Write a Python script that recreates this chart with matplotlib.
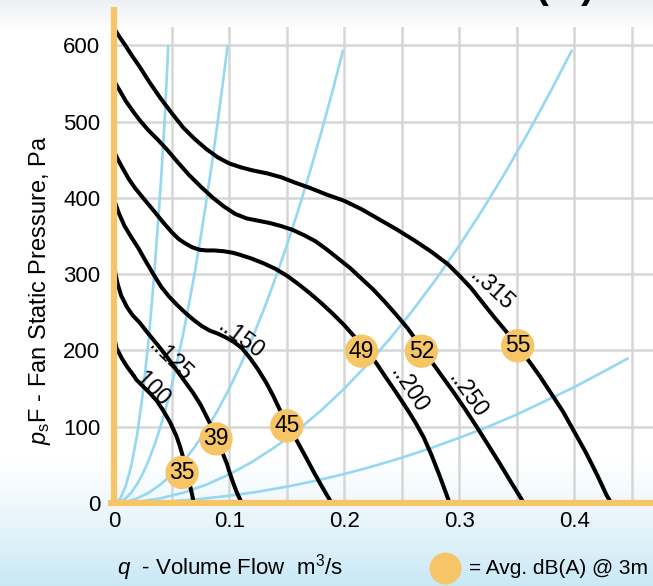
import numpy as np
import matplotlib
matplotlib.use("Agg")
import matplotlib.pyplot as plt

plt.rcParams['font.family'] = ['Liberation Sans', 'DejaVu Sans']
plt.rcParams['mathtext.fontset'] = 'custom'
plt.rcParams['mathtext.rm'] = 'Liberation Sans'
plt.rcParams['mathtext.it'] = 'Liberation Sans:italic'

# ---------------- data ----------------
# fan curves: q [m3/s], p [Pa]
fan_labels = ["..315", "..250", "..200", "..150", "..125", "..100"]
q_315 = [0, 0.005, 0.01, 0.016, 0.022, 0.03, 0.04, 0.05, 0.06, 0.07, 0.08, 0.09, 0.1, 0.11,
         0.12, 0.133, 0.145, 0.157, 0.17, 0.185, 0.2, 0.215, 0.23, 0.245, 0.26, 0.275,
         0.29, 0.3, 0.31, 0.32, 0.33, 0.34, 0.35, 0.36, 0.37, 0.38, 0.39, 0.4, 0.41, 0.42,
         0.428, 0.432]
p_315 = [622, 610, 599, 585, 572, 553, 531, 511, 492, 477, 464, 453, 445, 440,
         436, 432, 427, 420, 413, 404, 396, 385, 372, 359, 345, 330,
         313, 298, 282, 263, 244, 226, 207, 187, 166, 143, 120, 93, 66, 36,
         10, 0]
q_250 = [0, 0.005, 0.01, 0.016, 0.022, 0.03, 0.038, 0.046, 0.055, 0.065, 0.075, 0.085, 0.095,
         0.105, 0.115, 0.125, 0.135, 0.145, 0.155, 0.165, 0.175, 0.185, 0.195, 0.205,
         0.215, 0.225, 0.235, 0.245, 0.255, 0.265, 0.275, 0.285, 0.295, 0.305, 0.315,
         0.325, 0.335, 0.345, 0.352, 0.356]
p_250 = [553, 540, 527, 514, 502, 488, 476, 463, 447, 430, 415, 401, 389,
         379, 373, 370, 367, 363, 358, 351, 343, 332, 320, 308,
         294, 280, 264, 247, 229, 208, 187, 166, 145, 123, 100,
         76, 52, 27, 10, 0]
q_200 = [0, 0.004, 0.008, 0.0125, 0.018, 0.025, 0.03, 0.036, 0.043, 0.05, 0.056, 0.062,
         0.068, 0.074, 0.08, 0.087, 0.095, 0.103, 0.11, 0.12, 0.13, 0.14, 0.15, 0.16,
         0.17, 0.18, 0.19, 0.2, 0.21, 0.22, 0.227, 0.235, 0.245, 0.255, 0.262, 0.269,
         0.276, 0.283, 0.2915]
p_200 = [460, 448, 437, 425, 413, 400, 391, 380, 367, 355, 346, 340,
         335, 332, 331, 331, 330, 328, 325, 320, 314, 307, 298, 287,
         275, 262, 248, 233, 216, 198, 185, 167, 145, 122, 105, 86,
         62, 35, 0]
q_150 = [0, 0.004, 0.009, 0.015, 0.021, 0.027, 0.034, 0.041, 0.048, 0.055, 0.062, 0.069,
         0.076, 0.083, 0.09, 0.097, 0.104, 0.111, 0.118, 0.125, 0.132, 0.138, 0.144,
         0.15, 0.156, 0.1615, 0.168, 0.174, 0.18, 0.185, 0.189]
p_150 = [397, 380, 363, 348, 334, 318, 300, 283, 270, 259, 249, 240,
         232, 226, 222, 217, 211, 203, 190, 175, 158, 141, 122,
         106, 89, 74, 56, 39, 23, 10, 0]
q_125 = [0, 0.001, 0.003, 0.006, 0.011, 0.016, 0.0224, 0.028, 0.034, 0.04, 0.0456, 0.051,
         0.0572, 0.063, 0.0687, 0.075, 0.0804, 0.085, 0.0885, 0.093, 0.0978, 0.1005,
         0.1035, 0.1065, 0.1093, 0.111]
p_125 = [314, 301, 287, 272, 257, 246, 236, 225, 214, 203, 192, 181,
         168, 156, 144, 129, 113, 99, 87, 70, 52, 39,
         26, 14, 5, 0]
q_100 = [0, 0.002, 0.0065, 0.011, 0.0155, 0.0196, 0.025, 0.031, 0.037, 0.0427, 0.0485,
         0.054, 0.057, 0.0595, 0.062, 0.064, 0.066, 0.068, 0.069]
p_100 = [217, 203, 190, 179, 170, 161, 153, 144, 134, 121, 106,
         88, 75, 62, 47, 34, 22, 9, 0]

# system (duct) curves, light blue
sys1_q = [0, 0.005, 0.01, 0.015, 0.02, 0.025, 0.03, 0.034, 0.038, 0.041, 0.044, 0.047]
sys1_p = [0, 5, 22, 50, 90, 145, 215, 285, 365, 430, 505, 600]
sys2_q = [0, 0.005, 0.01, 0.015, 0.02, 0.025, 0.03, 0.035, 0.04, 0.045, 0.05, 0.055, 0.06,
          0.065, 0.07, 0.075, 0.08, 0.085, 0.09, 0.095, 0.0986]
sys2_p = [0, 1.5, 6, 14, 25, 39, 56, 76, 99, 125, 154, 187, 222,
          261, 302, 347, 395, 446, 500, 557, 600]
sys3_q = [0, 0.01, 0.02, 0.03, 0.04, 0.05, 0.06, 0.07, 0.08, 0.09, 0.1, 0.11, 0.12, 0.13,
          0.14, 0.15, 0.16, 0.17, 0.18, 0.19, 0.199]
sys3_p = [0, 1.5, 6, 13.5, 24, 37.5, 54, 73.5, 96, 121.5, 150, 181.5, 216, 253.5,
          294, 337.5, 384, 433.5, 486, 541.5, 594]
sys4_q = [0, 0.02, 0.04, 0.06, 0.08, 0.1, 0.12, 0.14, 0.16, 0.18, 0.2, 0.22, 0.24, 0.26,
          0.28, 0.3, 0.32, 0.34, 0.36, 0.38, 0.398]
sys4_p = [0, 1.5, 6, 13.5, 24, 37.5, 54, 73.5, 96, 121.5, 150, 181.5, 216, 253.5,
          294, 337.5, 384, 433.5, 486, 541.5, 594]
sys5_q = [0, 0.025, 0.05, 0.075, 0.1, 0.125, 0.15, 0.175, 0.2, 0.225, 0.25, 0.275, 0.3,
          0.325, 0.35, 0.375, 0.4, 0.425, 0.447]
sys5_p = [0, 0.6, 2.4, 5.3, 9.5, 14.8, 21.4, 29.1, 38, 48.1, 59.4, 71.8, 85.5,
          100, 116, 134, 152, 172, 190]

# noise markers
noise_q = [0.059, 0.0885, 0.150, 0.215, 0.267, 0.3507]
noise_p = [40, 84, 101, 199, 199, 206]
noise_db = ["35", "39", "45", "49", "52", "55"]

# curve label positions (q, p, rotation)
label_q = [0.328, 0.307, 0.256, 0.110, 0.049, 0.030]
label_p = [280, 142, 148, 215, 188, 154]
label_rot = [-43, -55, -57, -37, -44, -45]

x_ticks = [0, 0.1, 0.2, 0.3, 0.4]
x_ticklabels = ["0", "0.1", "0.2", "0.3", "0.4"]
y_ticks = [0, 100, 200, 300, 400, 500, 600]

# ---------------- styling ----------------
W, H = 653, 586
ORANGE = "#F6C565"
BLUE = "#96D7F2"
GRID = "#D6D6D6"

fig = plt.figure(figsize=(W / 100, H / 100), dpi=100)

# background gradient
bg = fig.add_axes([0, 0, 1, 1], zorder=-10)
img = np.ones((H, 1, 3))
top = np.array([0.93, 0.945, 0.955])
bot = np.array([0.79, 0.91, 0.965])
for r in range(H):
    if r < 30:
        t = 1 - r / 30
        img[r, 0] = (1 - t) * 1.0 + t * top
    elif r > 460:
        t = ((r - 460) / (H - 460)) ** 1.1
        img[r, 0] = (1 - t) * 1.0 + t * bot
bg.imshow(img, aspect='auto', extent=[0, 1, 0, 1], origin='upper')
bg.axis('off')

x0_px, x_scale = 114.2, 1150.6
y0_px, y_scale = 503.0, 0.763
ax_top_px = 27
xmax = (W - x0_px) / x_scale
ymax = (y0_px - ax_top_px) / y_scale
ax = fig.add_axes([x0_px / W, (H - y0_px) / H, 1 - x0_px / W, (y0_px - ax_top_px) / H])
ax.patch.set_visible(False)
ax.set_xlim(0, xmax)
ax.set_ylim(0, ymax)

for gx in np.arange(0.05, 0.46, 0.05):
    ax.axvline(gx, color=GRID, lw=1.8, zorder=1)
for gy in [100, 200, 300, 400, 500, 600]:
    ax.axhline(gy, color=GRID, lw=1.8, zorder=1)

for sq, sp in [(sys1_q, sys1_p), (sys2_q, sys2_p), (sys3_q, sys3_p),
               (sys4_q, sys4_p), (sys5_q, sys5_p)]:
    ax.plot(sq, sp, color=BLUE, lw=1.9, zorder=2, solid_capstyle='butt',
            solid_joinstyle='round')

fan_q = [q_315, q_250, q_200, q_150, q_125, q_100]
fan_p = [p_315, p_250, p_200, p_150, p_125, p_100]
for fq, fp in zip(fan_q, fan_p):
    ax.plot(fq, fp, color='black', lw=2.9, zorder=3, solid_joinstyle='round',
            solid_capstyle='butt')

for lbl, lq, lp, rot in zip(fan_labels, label_q, label_p, label_rot):
    ax.text(lq, lp, lbl, rotation=rot, fontsize=16.5, ha='center', va='center',
            rotation_mode='anchor', zorder=4)

ax.scatter(noise_q, noise_p, s=24 ** 2, color=ORANGE, edgecolor='none', zorder=5)
for nq, np_, nd in zip(noise_q, noise_p, noise_db):
    ax.text(nq, np_, nd, fontsize=16.5, ha='center', va='center', zorder=6)

for s in ['top', 'right', 'left', 'bottom']:
    ax.spines[s].set_visible(False)
ax.plot([0, 0], [0, (y0_px - 7) / y_scale], color=ORANGE, lw=4.5, clip_on=False,
        zorder=7, solid_capstyle='butt')
ax.plot([-6 / x_scale, xmax], [0, 0], color=ORANGE, lw=4.5, clip_on=False, zorder=7,
        solid_capstyle='butt')

ax.set_xticks(x_ticks)
ax.set_xticklabels(x_ticklabels)
ax.set_yticks(y_ticks)
ax.tick_params(length=0, labelsize=16)
ax.tick_params(axis='x', pad=6)
ax.tick_params(axis='y', pad=10)

fig.text(40 / W, 1 - 290 / H, r"$p_{\rm s}$F - Fan Static Pressure, Pa",
         rotation=90, fontsize=17, ha='center', va='center')
fig.text(117 / W, 1 - 568 / H, r"$q$  - Volume Flow  m$^3$/s", fontsize=16,
         ha='left', va='center')
ax.plot([445 / W], [1 - 568 / H], marker='o', markersize=23, color=ORANGE,
        markeredgecolor='none', transform=fig.transFigure, clip_on=False)
fig.text(469 / W, 1 - 568 / H, "= Avg. dB(A) @ 3m", fontsize=15, ha='left', va='center')
fig.text(565 / W, 1.0 + 2 / H, "(   )", fontsize=28, fontweight='bold', ha='center',
         va='baseline')

fig.savefig("out.png", dpi=100)
